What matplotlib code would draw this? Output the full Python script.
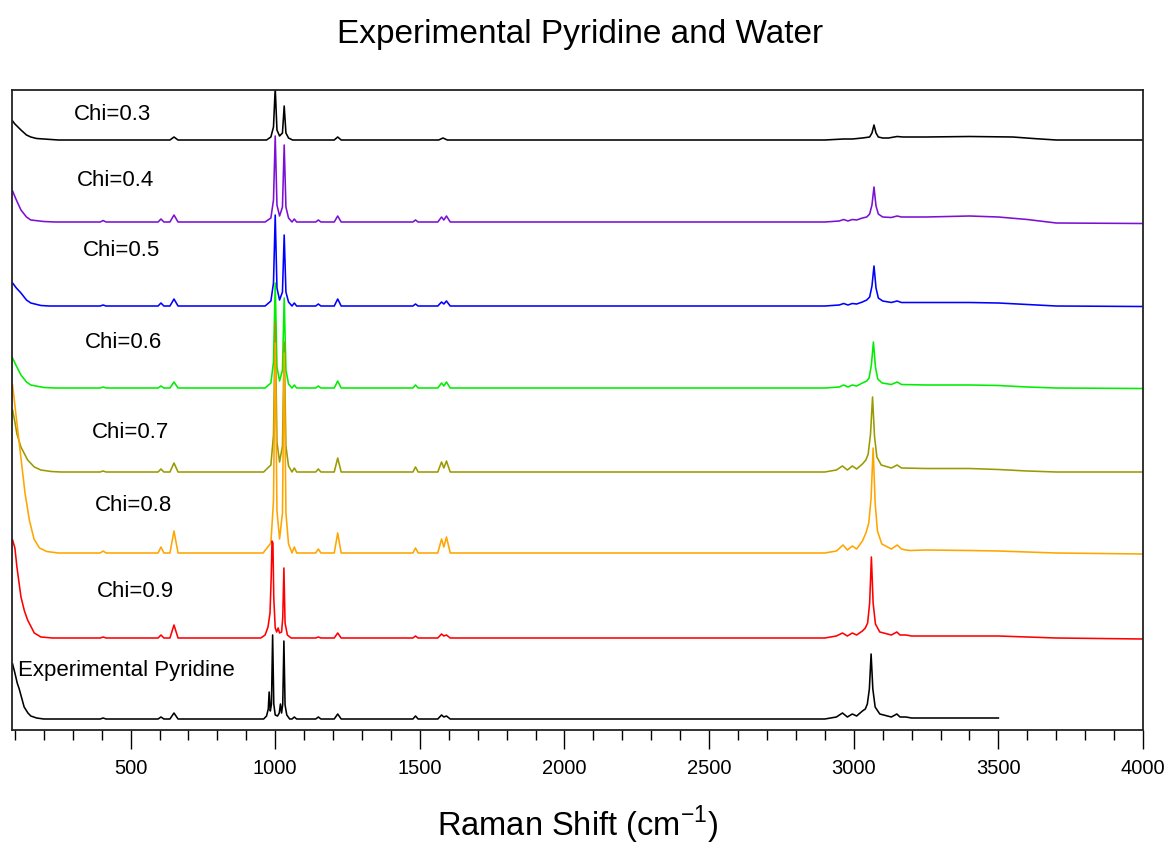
import matplotlib
matplotlib.use("Agg")
import matplotlib.pyplot as plt
from matplotlib.ticker import FixedLocator, MultipleLocator
import numpy as np

FONT = ['Liberation Sans Narrow', 'Liberation Sans', 'DejaVu Sans']
plt.rcParams['font.family'] = FONT

# ---------------- data (Raman shift in cm^-1, intensity above baseline, arb. units) -------------
labels = ["Chi=0.3", "Chi=0.4", "Chi=0.5", "Chi=0.6", "Chi=0.7", "Chi=0.8", "Chi=0.9",
          "Experimental Pyridine"]
offsets = [590, 508, 424, 342, 258, 177, 92, 11]

x03 = [92, 100, 121, 140, 155, 175, 200, 250,
       636, 650, 664,
       970, 985, 994, 1000, 1006, 1015, 1025, 1031, 1037, 1046, 1060,
       1204, 1216, 1228, 1565, 1580, 1595,
       2900, 2965, 2995, 3030, 3055, 3063, 3070, 3077, 3085, 3100, 3120, 3150, 3170, 3250, 3400,
       3550, 3620, 3700, 4000]
y03 = [19, 16, 10, 5, 3, 1.5, 1, 0,
       0, 3, 0,
       0, 3, 13, 52, 10, 4, 7, 34, 7, 2, 0,
       0, 3, 0, 0, 2, 0,
       0, 1, 1, 2, 3, 7, 15, 7, 3, 2, 2, 3.5, 3, 3, 3.5,
       3, 1.5, 0, 0]

x04 = [92, 105, 121, 140, 155, 200, 240,
       395, 405, 415, 595, 605, 615, 636, 650, 664,
       965, 985, 994, 1000, 1006, 1015, 1025, 1031, 1037, 1046, 1058, 1066, 1074,
       1140, 1149, 1158, 1204, 1216, 1228, 1476, 1485, 1494, 1562, 1575, 1583, 1592, 1605,
       2900, 2950, 2965, 2980, 2995, 3010, 3030, 3045, 3055, 3063, 3070, 3077, 3085, 3100, 3130,
       3150, 3165, 3250, 3400, 3500, 3600, 3700, 4000]
y04 = [31, 22, 12, 5, 2, 0.5, 0,
       0, 1.5, 0, 0, 3, 0, 0, 7, 0,
       0, 4, 22, 86, 17, 6, 15, 77, 15, 4, 0, 3, 0,
       0, 2, 0, 0, 6, 0, 0, 2, 0, 0, 5, 2, 6, 0,
       0, 1, 2.5, 1, 2.5, 2, 4, 5, 8, 17, 35, 16, 8, 5, 4.5,
       6, 5, 5, 6, 5, 2.5, -1, -1.5]

x05 = [92, 105, 121, 140, 155, 190, 220,
       395, 405, 415, 595, 605, 615, 636, 650, 664,
       965, 985, 994, 1000, 1006, 1015, 1025, 1031, 1037, 1046, 1058, 1066, 1074,
       1140, 1149, 1158, 1204, 1216, 1228, 1476, 1485, 1494, 1562, 1575, 1583, 1592, 1605,
       2900, 2950, 2965, 2980, 2995, 3010, 3030, 3045, 3055, 3063, 3070, 3077, 3085, 3100, 3130,
       3150, 3165, 3250, 3400, 3500, 3600, 3700, 4000]
y05 = [23, 18, 13, 6, 3, 0.5, 0,
       0, 1, 0, 0, 3, 0, 0, 7, 0,
       0, 5, 23, 91, 18, 6, 14, 71, 14, 4, 0, 3, 0,
       0, 2, 0, 0, 7, 0, 0, 2, 0, 0, 4, 2, 5, 0,
       0, 1, 2.5, 1, 2.5, 2, 4, 6, 9, 20, 40, 18, 8, 5, 3.5,
       5, 3.5, 3.5, 3.5, 3, 1.5, 0, -0.5]

x06 = [92, 105, 121, 140, 155, 200, 240,
       395, 405, 415, 595, 605, 615, 636, 650, 664,
       965, 985, 994, 1000, 1006, 1015, 1025, 1031, 1037, 1046, 1058, 1066, 1074,
       1140, 1149, 1158, 1204, 1216, 1228, 1476, 1485, 1494, 1562, 1575, 1583, 1592, 1605,
       2900, 2950, 2965, 2980, 2995, 3010, 3030, 3045, 3053, 3061, 3068, 3075, 3083, 3098, 3130,
       3150, 3165, 3250, 3400, 3500, 3600, 3700, 4000]
y06 = [30, 22, 13, 6, 3, 0.5, 0,
       0, 1, 0, 0, 2, 0, 0, 6, 0,
       0, 5, 26, 105, 21, 7, 18, 90, 18, 4, 0, 3, 0,
       0, 2, 0, 0, 7, 0, 0, 3, 0, 0, 5, 2, 6, 0,
       0, 1, 3, 1, 3, 2, 5, 7, 10, 23, 46, 21, 9, 5, 3.5,
       6, 3.5, 3, 3, 2.5, 1, 0, -0.5]

x07 = [92, 100, 107, 121, 144, 167, 190, 225, 260,
       395, 405, 415, 595, 605, 615, 636, 650, 664,
       960, 985, 994, 1000, 1006, 1015, 1025, 1031, 1037, 1046, 1058, 1066, 1074,
       1140, 1149, 1158, 1204, 1216, 1228, 1476, 1485, 1494, 1562, 1575, 1583, 1592, 1605,
       2900, 2940, 2961, 2978, 2995, 3010, 3030, 3042, 3050, 3058, 3065, 3072, 3080, 3095, 3130,
       3150, 3165, 3250, 3400, 3500, 3600, 3700, 4000]
y07 = [62, 50, 38, 25, 12, 5, 2, 0.5, 0,
       0, 1, 0, 0, 3, 0, 0, 9, 0,
       0, 7, 37, 150, 30, 10, 26, 130, 26, 6, 0, 4, 0,
       0, 3, 0, 0, 14, 0, 0, 5, 0, 0, 10, 4, 11, 0,
       0, 2, 6, 2, 6, 3, 8, 12, 18, 38, 75, 35, 15, 7, 4,
       7, 4, 3.5, 3.5, 2.5, 1, 0, 0]

x08 = [92, 105, 121, 135, 150, 166, 185, 210, 250,
       395, 405, 415, 595, 605, 615, 636, 650, 664,
       958, 985, 994, 1000, 1006, 1015, 1025, 1031, 1037, 1046, 1058, 1066, 1074,
       1140, 1149, 1158, 1204, 1216, 1228, 1476, 1485, 1494, 1562, 1575, 1583, 1592, 1605,
       2900, 2940, 2963, 2978, 2995, 3010, 3030, 3042, 3052, 3060, 3067, 3074, 3082, 3097, 3130,
       3150, 3165, 3180, 3195, 3250, 3400, 3500, 3700, 4000]
y08 = [168, 135, 95, 60, 33, 14, 5, 1.5, 0,
       0, 2, 0, 0, 6, 0, 0, 22, 0,
       0, 10, 52, 210, 42, 14, 40, 200, 40, 9, 0, 6, 0,
       0, 4, 0, 0, 20, 0, 0, 5, 0, 0, 14, 6, 16, 0,
       0, 2, 8, 3, 7, 4, 12, 20, 30, 55, 105, 50, 22, 9, 4,
       8, 4, 3, 2.5, 3, 2.5, 2, 0, -1]

x09 = [92, 100, 107, 121, 133, 144, 167, 190, 230,
       395, 405, 415, 595, 605, 615, 636, 650, 664,
       950, 965, 975, 982, 986, 989, 992, 995, 1000, 1005, 1010, 1015, 1022, 1026, 1030, 1034,
       1042, 1055,
       1140, 1149, 1158, 1204, 1216, 1228, 1476, 1485, 1494, 1562, 1575, 1583, 1592, 1605,
       2900, 2940, 2961, 2978, 2995, 3010, 3030, 3040, 3048, 3055, 3061, 3067, 3075, 3090, 3130,
       3149, 3160, 3180, 3200, 3400, 3500, 3600, 3700, 4000]
y09 = [98, 90, 71, 41, 27, 18, 5, 1, 0,
       0, 1, 0, 0, 3, 0, 0, 13, 0,
       0, 3, 11, 25, 60, 97, 95, 40, 10, 6, 10, 5, 6, 20, 70, 15,
       3, 0,
       0, 1, 0, 0, 5, 0, 0, 2, 0, 0, 4, 2, 3, 0,
       0, 2, 5, 2, 5, 3, 7, 10, 15, 35, 81, 35, 14, 6, 3,
       6, 3, 3, 2, 2, 2, 1, 0, -1]

xpy = [92, 100, 108, 115, 132, 145, 155, 175, 200,
       395, 405, 415, 595, 605, 615, 636, 650, 664,
       960, 970, 976, 979, 983, 987, 991, 995, 1000, 1008, 1014, 1018, 1022, 1026, 1030, 1034,
       1040, 1050, 1058, 1066, 1074,
       1140, 1149, 1158, 1204, 1216, 1228, 1476, 1485, 1494, 1562, 1575, 1583, 1592, 1605,
       2900, 2940, 2961, 2978, 2995, 3010, 3030, 3040, 3047, 3054, 3060, 3066, 3074, 3090, 3130,
       3149, 3160, 3180, 3200, 3300, 3500]
ypy = [55, 46, 36, 30, 12, 6, 3, 1, 0,
       0, 1, 0, 0, 2, 0, 0, 6, 0,
       0, 3, 10, 27, 8, 15, 84, 15, 4, 3, 6, 15, 6, 15, 78, 14,
       4, 0, 0, 2, 0,
       0, 2, 0, 0, 5, 0, 0, 3, 0, 0, 4, 2, 3, 0,
       0, 2, 6, 2, 5, 3, 8, 10, 15, 30, 65, 30, 12, 5, 2,
       5, 2, 2, 1, 1, 1]

series_x = [x03, x04, x05, x06, x07, x08, x09, xpy]
series_y = [y03, y04, y05, y06, y07, y08, y09, ypy]
colors = ["#000000", "#7B10D4", "#0000FF", "#00EE00", "#9A9A00", "#FFA500", "#FF0000", "#000000"]

xticks_major = [500, 1000, 1500, 2000, 2500, 3000, 3500, 4000]

# ---------------- figure ----------------
fig = plt.figure(figsize=(11.68, 8.46), dpi=100)
ax = fig.add_axes([12 / 1168, 1 - 730 / 846, (1143 - 12) / 1168, (730 - 90) / 846])

for xs, ys, off, c in zip(series_x, series_y, offsets, colors):
    ax.plot(xs, np.asarray(ys, dtype=float) + off, color=c, lw=1.15, solid_joinstyle='round')

label_pos = [(304, 615), (314, 550), (335, 480), (342, 388), (366, 298), (377, 225),
             (384, 139), (110, 60)]
for lab, (lx, ly) in zip(labels, label_pos):
    ax.text(lx, ly, lab, fontsize=16, va='center', ha='left', color='black')

ax.set_xlim(90, 4000)
ax.set_ylim(0, 640)
ax.yaxis.set_visible(False)
ax.xaxis.set_major_locator(FixedLocator(xticks_major))
ax.xaxis.set_minor_locator(MultipleLocator(100))
ax.tick_params(axis='x', which='major', direction='out', length=14, width=1.0,
               labelsize=14.5, pad=7)
ax.tick_params(axis='x', which='minor', direction='out', length=7, width=1.0)
for s in ax.spines.values():
    s.set_linewidth(1.3)
    s.set_color('#222222')

fig.text(580 / 1168, 1 - 35 / 846, "Experimental Pyridine and Water", fontsize=24,
         ha='center', va='center')
fig.text(578 / 1168, 1 - 825 / 846, r"Raman Shift (cm$^{\mathregular{-1}}$)", fontsize=23.5,
         ha='center', va='center')

fig.savefig("out.png", dpi=100)
